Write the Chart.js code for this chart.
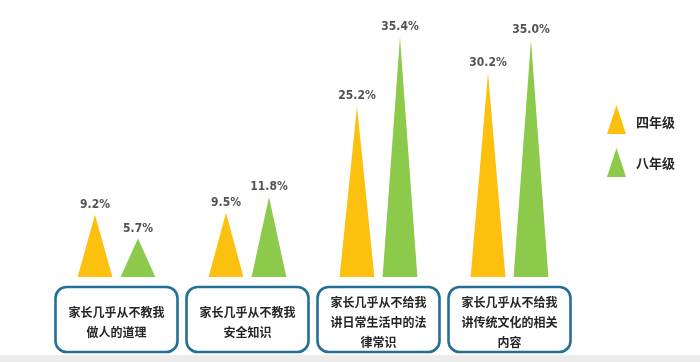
<!DOCTYPE html>
<html><head><meta charset="utf-8">
<script src="https://cdn.jsdelivr.net/npm/chart.js@4.4.1/dist/chart.umd.min.js"></script>
<style>html,body{margin:0;padding:0;background:#fff;overflow:hidden}#wrap{width:700px;height:362px;position:relative}</style>
</head><body><div id="wrap"><canvas id="c" width="700" height="362"></canvas></div>
<script>
const categories = [
  ["家长几乎从不教我", "做人的道理"],
  ["家长几乎从不教我", "安全知识"],
  ["家长几乎从不给我", "讲日常生活中的法", "律常识"],
  ["家长几乎从不给我", "讲传统文化的相关", "内容"]
];
const seriesNames = ["四年级", "八年级"];
const grade4 = [9.2, 9.5, 25.2, 30.2];
const grade8 = [5.7, 11.8, 35.4, 35.0];
const seriesColors = ["#FCC10F", "#8DC94A"];

const CJK = '"Noto Sans CJK SC", "Noto Sans", sans-serif';
const NUM = '"DejaVu Sans Condensed", "DejaVu Sans", sans-serif';

const trianglePlugin = {
  id: 'triangles',
  beforeDraw(chart) {
    const ctx = chart.ctx;
    ctx.save();
    ctx.fillStyle = '#ffffff';
    ctx.fillRect(0, 0, chart.width, chart.height);
    ctx.fillStyle = '#ececec';
    ctx.fillRect(0, 355, chart.width, chart.height - 355);
    ctx.restore();
  },
  afterDatasetsDraw(chart) {
    const ctx = chart.ctx;
    const area = chart.chartArea;
    const xs = chart.scales.x;
    ctx.save();
    chart.data.datasets.forEach((ds, di) => {
      const meta = chart.getDatasetMeta(di);
      meta.data.forEach((bar, i) => {
        const p = bar.getProps(['x', 'y', 'base', 'width'], true);
        ctx.fillStyle = seriesColors[di];
        ctx.beginPath();
        ctx.moveTo(p.x - p.width / 2, p.base);
        ctx.lineTo(p.x + p.width / 2, p.base);
        ctx.lineTo(p.x, p.y);
        ctx.closePath();
        ctx.fill();
        ctx.fillStyle = '#525252';
        ctx.font = 'bold 12px ' + NUM;
        if ('fontStretch' in ctx) ctx.fontStretch = 'condensed';
        ctx.textAlign = 'center';
        ctx.textBaseline = 'middle';
        ctx.fillText(ds.data[i].toFixed(1) + '%', p.x, p.y - 10);
        if ('fontStretch' in ctx) ctx.fontStretch = 'normal';
      });
    });
    const bw = 122, top = area.bottom + 10, bh = 65;
    categories.forEach((lines, i) => {
      const cx = xs.getPixelForValue(i);
      const x0 = cx - bw / 2;
      ctx.strokeStyle = '#236F95';
      ctx.lineWidth = 2.6;
      ctx.beginPath();
      ctx.roundRect(x0, top, bw, bh, 11);
      ctx.stroke();
      ctx.fillStyle = '#262626';
      ctx.font = 'bold 12px ' + CJK;
      ctx.textAlign = 'center';
      ctx.textBaseline = 'middle';
      const lh = 20;
      const startY = lines.length === 3 ? top + 15 : top + 25;
      lines.forEach((t, k) => ctx.fillText(t, cx, startY + k * lh));
    });
    const legY = [[105, 134], [148, 177]];
    seriesNames.forEach((name, di) => {
      const [yt, yb] = legY[di];
      ctx.fillStyle = seriesColors[di];
      ctx.beginPath();
      ctx.moveTo(607, yb);
      ctx.lineTo(626, yb);
      ctx.lineTo(616.5, yt);
      ctx.closePath();
      ctx.fill();
      ctx.fillStyle = '#262626';
      ctx.font = 'bold 13px ' + CJK;
      ctx.textAlign = 'left';
      ctx.textBaseline = 'middle';
      ctx.fillText(name, 636, di === 0 ? 122 : 163);
    });
    ctx.restore();
  }
};

new Chart(document.getElementById('c'), {
  type: 'bar',
  data: {
    labels: categories.map(l => l.join('')),
    datasets: [
      { label: seriesNames[0], data: grade4, backgroundColor: 'rgba(0,0,0,0)', borderWidth: 0 },
      { label: seriesNames[1], data: grade8, backgroundColor: 'rgba(0,0,0,0)', borderWidth: 0 }
    ]
  },
  options: {
    responsive: false,
    animation: false,
    devicePixelRatio: 1,
    categoryPercentage: 0.656,
    barPercentage: 0.81,
    layout: { padding: { left: 51, right: 125, top: 6, bottom: 85 } },
    scales: {
      x: { display: false },
      y: { display: false, min: 0, max: 40 }
    },
    plugins: { legend: { display: false }, tooltip: { enabled: false } }
  },
  plugins: [trianglePlugin]
});
</script>
</body></html>
